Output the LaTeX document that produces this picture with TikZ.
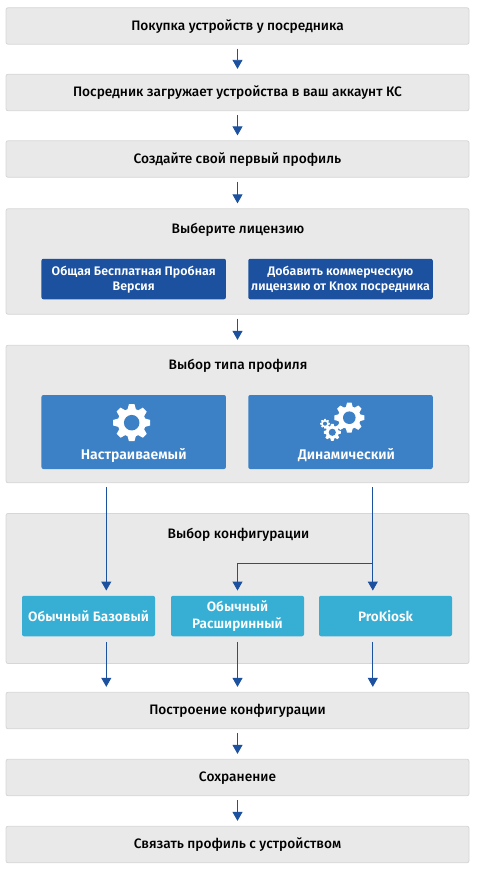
\documentclass[tikz,border=0pt]{standalone}
\usepackage{fontspec}
\setmainfont{Fira Sans Medium}[BoldFont=Fira Sans SemiBold]
\usepackage{xcolor}
\definecolor{panelfill}{RGB}{233, 233, 233}
\definecolor{panelline}{RGB}{214, 214, 214}
\definecolor{licblue}{RGB}{28, 81, 160}
\definecolor{typeblue}{RGB}{60, 128, 198}
\definecolor{cfgblue}{RGB}{55, 175, 212}
\definecolor{flowblue}{RGB}{28, 81, 160}
\usetikzlibrary{arrows.meta}

\tikzset{
    panel/.style={draw=panelline, fill=panelfill, rounded corners=2pt, line width=0.8pt,
        minimum width=463pt, inner sep=0pt, text=black, text height=10.6pt, text depth=2pt,
        font=\fontsize{13.7}{15}\selectfont},
    title/.style={text=black, inner sep=0pt, text height=10.6pt, text depth=2pt,
        font=\fontsize{13.7}{15}\selectfont},
    licbox/.style={fill=licblue, rounded corners=2pt, minimum width=184.5pt, minimum height=40.5pt,
        inner sep=0pt, align=center, text=white, text height=24pt, text depth=0.5pt,
        font=\fontsize{12.4}{15}\selectfont\bfseries},
    typebox/.style={fill=typeblue, rounded corners=2pt, minimum width=184.5pt, minimum height=74pt,
        inner sep=0pt, text=white},
    cfgbox/.style={fill=cfgblue, rounded corners=2pt, minimum width=133pt, minimum height=40.5pt,
        inner sep=0pt, align=center, text=white, font=\fontsize{13.6}{17}\selectfont\bfseries},
    typelabel/.style={text=white, inner sep=0pt, font=\fontsize{14}{15}\selectfont\bfseries},
    flow/.style={-{Triangle[width=10pt,length=9pt]}, flowblue, line width=0.9pt, shorten >=5pt, shorten <=4pt},
    gearicon/.pic={
        \fill[white] (0,0) circle (0.76);
        \foreach \a in {0,45,...,315}
            \fill[white, rotate=\a] (-0.26,0.6) -- (-0.15,1) -- (0.15,1) -- (0.26,0.6) -- cycle;
        \fill[typeblue] (0,0) circle (0.42);
    }
}

\begin{document}
\begin{tikzpicture}[x=1pt, y=-1pt]
    \useasboundingbox (0,0) rectangle (477,872);

    % Steps and panels
    \node[panel, minimum height=36.5pt] (buy) at (237.5,26) {Покупка устройств у посредника};
    \node[panel, minimum height=36.5pt] (upload) at (237.5,92.5) {Посредник загружает устройства в ваш аккаунт КС};
    \node[panel, minimum height=36.5pt] (first) at (237.5,159) {Создайте свой первый профиль};
    \node[panel, minimum height=105.5pt] (license) at (237.5,261.5) {};
    \node[panel, minimum height=137.5pt] (type) at (237.5,414) {};
    \node[panel, minimum height=150pt] (config) at (237.5,588.5) {};
    \node[panel, minimum height=36.5pt] (build) at (237.5,710.5) {Построение конфигурации};
    \node[panel, minimum height=36.5pt] (save) at (237.5,777.5) {Сохранение};
    \node[panel, minimum height=36.5pt] (bind) at (237.5,844.5) {Связать профиль с устройством};

    \node[title] (licensetitle) at (238,229.5) {Выберите лицензию};
    \node[title] (typetitle) at (238,365.5) {Выбор типа профиля};
    \node[title] (configtitle) at (238.5,534.5) {Выбор конфигурации};

    % License choice
    \node[licbox] (trial) at (133.7,279) {Общая Бесплатная Пробная\\Версия};
    \node[licbox] (commercial) at (340.5,279) {Добавить коммерческую\\лицензию от Knox посредника};

    % Profile type
    \node[typebox] (custom) at (133.7,432) {};
    \node[typebox] (dynamic) at (340.5,432) {};
    \node[typelabel] (customlabel) at (133.7,455) {Настраиваемый};
    \node[typelabel] (dynamiclabel) at (346.5,455) {Динамический};
    \pic[scale=18.5] at (131.7,422.7) {gearicon};
    \pic[scale=15] at (349.3,417.7) {gearicon};
    \pic[scale=8.5] at (332.3,432.3) {gearicon};
    \pic[scale=4.8] at (325,423.7) {gearicon};

    % Configuration
    \node[cfgbox] (basic) at (88.5,616) {Обычный Базовый};
    \node[cfgbox, text height=26.5pt, text depth=0.7pt] (extended) at (237.5,616) {Обычный\\Расширинный};
    \node[cfgbox] (kiosk) at (385.5,616) {ProKiosk};

    \coordinate (colA) at (106.3,0);
    \coordinate (colC) at (372.8,0);
    \coordinate (split) at (372.8,563.5);

    % Connectors
    \draw[flow] (buy) -- (upload);
    \draw[flow] (upload) -- (first);
    \draw[flow] (first) -- (license);
    \draw[flow] (license) -- (type);
    \draw[flow] (colA |- type.south) -- (colA |- basic.north);
    \draw[flow] (colC |- type.south) -- (colC |- kiosk.north);
    \draw[flow, shorten <=0pt] (split) -| (extended.north);
    \draw[flow, shorten <=5.5pt] (colA |- basic.south) -- (colA |- build.north);
    \draw[flow, shorten <=5.5pt] (extended) -- (build);
    \draw[flow, shorten <=5.5pt] (colC |- kiosk.south) -- (colC |- build.north);
    \draw[flow] (build) -- (save);
    \draw[flow] (save) -- (bind);
\end{tikzpicture}
\end{document}
